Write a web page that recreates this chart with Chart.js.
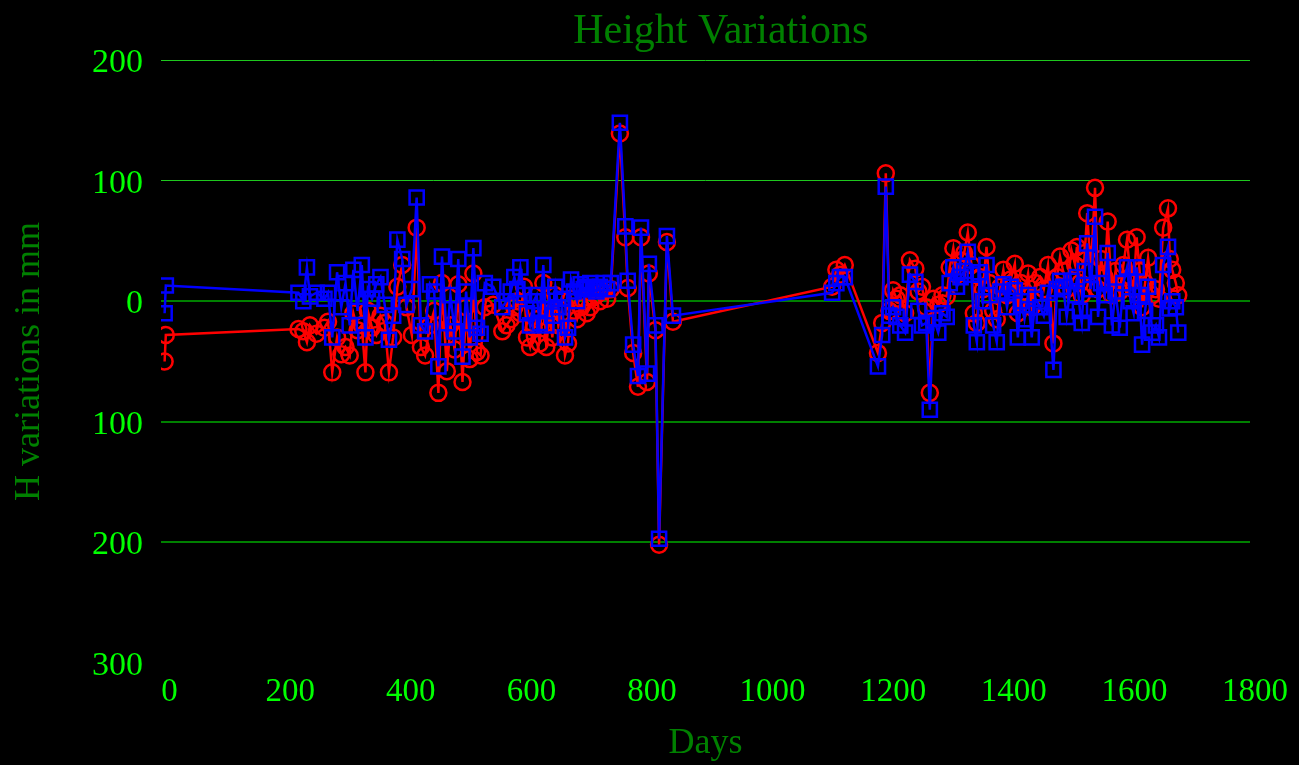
<!DOCTYPE html>
<html>
<head>
<meta charset="utf-8">
<script src="https://cdn.jsdelivr.net/npm/chart.js@4.4.0/dist/chart.umd.min.js"></script>
<style>
  html, body { margin: 0; padding: 0; background: #000; overflow: hidden; }
  canvas { display: block; }
</style>
</head>
<body>
<canvas id="chart" width="1299" height="765"></canvas>
<script>
// Survey days (shared by both height series)
const days = [
  0, 2,
  222, 230, 236, 241, 252, 265, 271, 278, 286, 293,
  300, 307, 313, 320, 327, 333, 337, 344, 351, 358,
  365, 372, 379, 386, 394, 401, 410, 418, 425, 432,
  440, 447, 454, 460, 468, 474, 481, 487, 494, 500,
  506, 512, 518, 524, 531,
  545, 560, 567, 574, 580, 585, 590, 596, 601, 606,
  612, 617, 622, 628, 633, 638, 643, 648, 653, 658,
  664, 669, 674, 679, 684, 690, 695, 700, 706, 711,
  716, 722, 728, 734, 740,
  755, 764, 768, 777, 785, 790, 800, 803, 814, 820,
  833, 843,
  1107, 1114, 1120, 1128,
  1183, 1190, 1196, 1202, 1208, 1214, 1220, 1228, 1236, 1245,
  1250, 1256, 1263, 1269, 1275, 1283, 1290, 1297, 1302, 1308,
  1314, 1320, 1326, 1332, 1338, 1342, 1347, 1352, 1357, 1363,
  1368, 1374, 1380, 1386, 1391, 1397, 1403, 1410, 1415, 1420,
  1426, 1432, 1438, 1444, 1452, 1458, 1465, 1474, 1480, 1485,
  1490, 1496, 1504, 1510, 1513, 1518, 1521, 1526, 1530, 1536,
  1543, 1548, 1553, 1559, 1564, 1571, 1577, 1584, 1590, 1596,
  1602, 1607, 1612, 1617, 1621, 1626, 1631, 1638, 1644, 1649,
  1656, 1664, 1667, 1671, 1677, 1681
];

// Height variation, circle series (mm)
const heightRed = [
  -50, -28,
  -23, -25, -34, -20, -27, -22, -17, -59, -30, -44,
  -38, -45, -10, -24, -20, -59, -8, -22, -28, -12,
  -18, -59, -30, 12, 30, -5, -28, 61, -38, -45,
  -20, -8, -76, 15, -58, -20, -40, 14, -67, -5,
  -48, 23, -42, -45, -5,
  -3, -25, -20, -15, -5, 0, -10, 12, -30, -38,
  -22, -15, -35, 15, -38, -10, -30, 5, -20, -10,
  -45, -35, 2, -8, -15, -5, 0, -10, -5, 3,
  5, 0, 8, 2, 10,
  139, 53, 11, -43, -71, 53, -67, 23, -24, -202,
  49, -17,
  12, 26, 22, 30,
  -43, -18, 106, -8, 9, 2, 5, -10, 34, 27,
  8, 12, -5, -76, 2, -3, 5, 4, 28, 44,
  22, 34, 40, 57, 30, -10, -18, 20, 10, 45,
  15, -8, -15, 12, 26, 5, 18, 31, -10, 15,
  8, 23, -5, 15, 20, 10, 30, -35, 20, 37,
  25, 10, 42, 30, 45, 15, 5, 40, 73, 25,
  94, 10, 35, 20, 66, 5, 25, 8, 30, 51,
  20, 10, 53, 25, -5, 15, 36, 5, 10, 2,
  61, 77, 35, 26, 15, 5
];

// Height variation, square series (mm)
const heightBlue = [
  -10, 13,
  7, 0, 28, 4, 7, 2, 7, -30, 24, -5,
  15, -20, 26, -8, 30, -30, 10, 2, 14, 20,
  -3, -32, -12, 51, 35, -3, 10, 86, -20, -25,
  14, 8, -54, 37, -30, 5, -25, 35, -46, 8,
  -30, 44, -22, -27, 15,
  12, -5, 0, 8, 20, 10, 28, 5, -10, -20,
  0, 5, -18, 30, -20, 5, -12, 12, -5, 2,
  -30, -22, 18, 8, 0, 14, 10, 12, 15, 10,
  8, 12, 15, 10, 15,
  148, 62, 17, -36, -62, 61, -60, 31, -20, -197,
  54, -12,
  7, 15, 20, 20,
  -54, -28, 95, -12, -5, -13, -20, -26, 22, 16,
  -8, -20, -18, -90, -14, -26, -10, -13, 15, 28,
  12, 20, 25, 41, 22, -20, -34, 24, 0, 30,
  5, -20, -34, 8, 14, -5, 12, 9, -30, 0,
  -15, 5, -30, 2, -5, -12, 7, -57, 10, 17,
  12, -13, 17, 5, 20, -8, -18, 25, 48, 10,
  70, -13, 15, 5, 40, -20, 8, -22, 15, 28,
  0, -10, 28, 5, -36, -8, 12, -26, -20, -30,
  30, 45, -6, 0, -5, -26
];

const xTickValues = [0, 200, 400, 600, 800, 1000, 1200, 1400, 1600, 1800];
const yTickValues = [200, 100, 0, -100, -200, -300];

const FONT = 'Liberation Serif';
const TITLE = 'Height Variations';

const toPoints = values => days.map((d, i) => ({ x: d, y: values[i] }));

// Black backdrop and the chart heading
const framePlugin = {
  id: 'frame',
  beforeDraw(chart) {
    const { ctx, width, height } = chart;
    ctx.save();
    ctx.fillStyle = '#000';
    ctx.fillRect(0, 0, width, height);
    ctx.restore();
  },
  afterDraw(chart) {
    const { ctx, chartArea } = chart;
    ctx.save();
    ctx.font = `42px "${FONT}"`;
    ctx.fillStyle = '#008000';
    ctx.textAlign = 'center';
    ctx.textBaseline = 'alphabetic';
    const cx = chartArea.left + 0.514 * (chartArea.right - chartArea.left);
    ctx.fillText(TITLE, cx, chartArea.top - 17);
    ctx.restore();
  }
};

new Chart(document.getElementById('chart'), {
  type: 'scatter',
  data: {
    datasets: [
      {
        label: 'H2',
        data: toPoints(heightBlue),
        showLine: true,
        clip: 0,
        borderColor: '#0000ff',
        borderWidth: 2.5,
        backgroundColor: 'rgba(0,0,0,0)',
        pointStyle: 'rect',
        pointRadius: 10,
        pointBorderWidth: 2.5,
        pointBorderColor: '#0000ff',
        pointBackgroundColor: 'rgba(0,0,0,0)',
        tension: 0
      },
      {
        label: 'H1',
        data: toPoints(heightRed),
        showLine: true,
        clip: 0,
        borderColor: '#ff0000',
        borderWidth: 2.5,
        backgroundColor: 'rgba(0,0,0,0)',
        pointStyle: 'circle',
        pointRadius: 8,
        pointBorderWidth: 2.5,
        pointBorderColor: '#ff0000',
        pointBackgroundColor: 'rgba(0,0,0,0)',
        tension: 0
      }
    ]
  },
  options: {
    responsive: false,
    animation: false,
    devicePixelRatio: 1,
    layout: { padding: { top: 60, right: 49, left: 0, bottom: 0 } },
    plugins: {
      legend: { display: false },
      tooltip: { enabled: false },
      title: { display: false }
    },
    scales: {
      x: {
        type: 'linear',
        min: -6,
        max: 1800,
        afterBuildTicks: s => { s.ticks = xTickValues.map(v => ({ value: v })); },
        afterFit: s => { s.height = 102; },
        grid: { display: false, drawTicks: false },
        border: { display: false },
        ticks: {
          color: '#00ff00',
          font: { family: FONT, size: 33 },
          padding: 10,
          labelOffset: 5,
          maxRotation: 0,
          autoSkip: false,
          callback: v => String(v)
        },
        title: {
          display: true,
          text: 'Days',
          color: '#008000',
          font: { family: FONT, size: 36 },
          padding: { top: 0, bottom: 0 }
        }
      },
      y: {
        min: -300,
        max: 200,
        afterBuildTicks: s => { s.ticks = yTickValues.map(v => ({ value: v })); },
        afterFit: s => { s.width = 161; },
        grid: {
          drawTicks: false,
          color: c => c.tick.value === -300 ? 'rgba(0,0,0,0)' : (c.tick.value > 0 ? '#1ec81e' : '#008000'),
          lineWidth: c => c.tick.value > 0 ? 1 : 2
        },
        border: { display: false },
        ticks: {
          color: '#00ff00',
          font: { family: FONT, size: 34 },
          padding: 18,
          labelOffset: 3,
          callback: v => String(Math.abs(v))
        },
        title: {
          display: true,
          text: 'H variations in mm',
          color: '#008000',
          font: { family: FONT, size: 36 },
          padding: { top: 8, bottom: 0 }
        }
      }
    }
  },
  plugins: [framePlugin]
});
</script>
</body>
</html>
